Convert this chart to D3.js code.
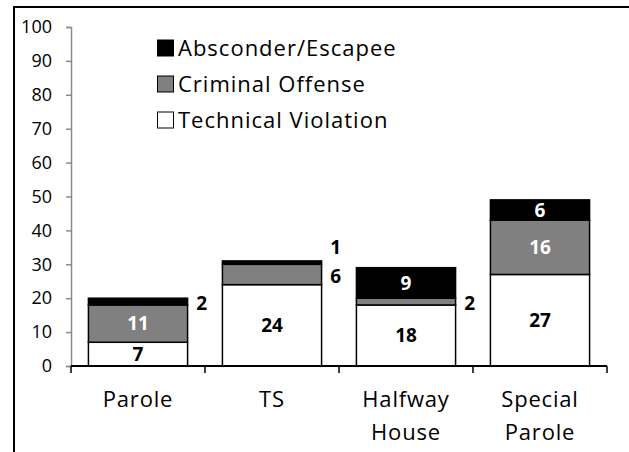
<!DOCTYPE html>
<html>
<head>
  <meta charset="utf-8" />
  <script src="https://cdn.jsdelivr.net/npm/d3@7"></script>
  <style>
    body { margin: 0; background: #fff; }
    svg { display: block; font-family: "Open Sans", sans-serif; }
  </style>
</head>
<body>
  <svg id="chart" width="629" height="452"></svg>
  <script>
    // data
    const categories = ["Parole", "TS", "Halfway House", "Special Parole"];
    const seriesNames = ["Technical Violation", "Criminal Offense", "Absconder/Escapee"];
    const technical = [7, 24, 18, 27];
    const criminal = [11, 6, 2, 16];
    const absconder = [2, 1, 9, 6];
    const yTicks = [0, 10, 20, 30, 40, 50, 60, 70, 80, 90, 100];

    const colors = { "Technical Violation": "#ffffff", "Criminal Offense": "#808080", "Absconder/Escapee": "#000000" };
    const labelColors = { "Technical Violation": "#000", "Criminal Offense": "#fff", "Absconder/Escapee": "#fff" };
    // which segment labels sit beside the bar instead of inside it
    const outside = new Set(["Parole|Absconder/Escapee", "TS|Criminal Offense", "TS|Absconder/Escapee", "Halfway House|Criminal Offense"]);

    const rows = categories.map((c, i) => ({
      cat: c,
      "Technical Violation": technical[i],
      "Criminal Offense": criminal[i],
      "Absconder/Escapee": absconder[i]
    }));

    const svg = d3.select("#chart");
    const margin = { left: 71 };
    const W = 629, H = 452;

    // frame (top and left edges visible)
    svg.append("line").attr("x1", 14).attr("x2", W).attr("y1", 7).attr("y2", 7)
      .attr("stroke", "#000").attr("stroke-width", 2);
    svg.append("line").attr("x1", 14).attr("x2", 14).attr("y1", 6).attr("y2", H)
      .attr("stroke", "#000").attr("stroke-width", 2);

    const x = d3.scaleBand().domain(categories).range([margin.left, 607]).paddingInner(0.26).paddingOuter(0.13);
    const y = d3.scaleLinear().domain([0, 100]).range([366, 27]);

    const stack = d3.stack().keys(seriesNames)(rows);

    // y axis (grey)
    const yAxis = svg.append("g").attr("transform", `translate(${margin.left},0)`)
      .call(d3.axisLeft(y).tickValues(yTicks).tickSize(5).tickPadding(14));
    yAxis.select(".domain").attr("stroke", "#8c8c8c").attr("stroke-width", 1.5);
    yAxis.selectAll(".tick line").attr("stroke", "#8c8c8c").attr("stroke-width", 1.5);
    yAxis.attr("font-size", null).attr("font-family", null);
    yAxis.selectAll("text").style("font-size", "18px").attr("fill", "#000");

    // bars
    const g = svg.append("g");
    stack.forEach(layer => {
      g.selectAll(null).data(layer).enter().append("rect")
        .attr("x", d => x(d.data.cat))
        .attr("width", x.bandwidth())
        .attr("y", d => y(d[1]))
        .attr("height", d => y(d[0]) - y(d[1]))
        .attr("fill", colors[layer.key])
        .attr("stroke", "#000")
        .attr("stroke-width", 1.5);
    });

    // x axis (black)
    const xAxisY = y(0);
    svg.append("line").attr("x1", margin.left).attr("x2", 607).attr("y1", xAxisY).attr("y2", xAxisY)
      .attr("stroke", "#000").attr("stroke-width", 2);
    const bandStep = x.step();
    const tickXs = categories.map(c => x(c) - x.paddingInner() * bandStep / 2).concat([607]);
    tickXs[0] = margin.left;
    svg.selectAll(null).data(tickXs).enter().append("line")
      .attr("x1", d => d).attr("x2", d => d)
      .attr("y1", xAxisY).attr("y2", xAxisY + 7)
      .attr("stroke", "#000").attr("stroke-width", 1.5);

    // category labels, split onto two lines
    categories.forEach(c => {
      const parts = c.split(" ");
      const t = svg.append("text")
        .attr("x", x(c) + x.bandwidth() / 2)
        .attr("y", 407)
        .attr("text-anchor", "middle")
        .style("font-size", "22px")
        .style("letter-spacing", "0.8px")
        .attr("fill", "#000");
      parts.forEach((p, i) => {
        t.append("tspan").attr("x", x(c) + x.bandwidth() / 2).attr("dy", i === 0 ? 0 : 33).text(p);
      });
    });

    // value labels
    let lastOutside = {};
    stack.forEach(layer => {
      layer.forEach(d => {
        const key = d.data.cat + "|" + layer.key;
        const v = d[1] - d[0];
        const mid = (y(d[0]) + y(d[1])) / 2;
        if (outside.has(key)) {
          let ly = mid + 2;
          const prev = lastOutside[d.data.cat];
          if (prev !== undefined && prev - ly < 28) ly = prev - 29;
          lastOutside[d.data.cat] = ly;
          svg.append("text")
            .attr("x", x(d.data.cat) + x.bandwidth() + 14)
            .attr("y", ly)
            .attr("dy", "0.35em")
            .attr("text-anchor", "middle")
            .style("font-size", "19px").attr("font-weight", "bold")
            .attr("fill", "#000").text(v);
        } else {
          svg.append("text")
            .attr("x", x(d.data.cat) + x.bandwidth() / 2)
            .attr("y", mid)
            .attr("dy", "0.35em")
            .attr("text-anchor", "middle")
            .style("font-size", "19px").attr("font-weight", "bold")
            .attr("fill", labelColors[layer.key]).text(v);
        }
      });
    });

    // legend
    const legendOrder = seriesNames.slice().reverse();
    const leg = svg.append("g").attr("transform", "translate(157,48)");
    legendOrder.forEach((name, i) => {
      const row = leg.append("g").attr("transform", `translate(0,${i * 36})`);
      row.append("rect").attr("x", 0.5).attr("y", -8).attr("width", 16).attr("height", 16)
        .attr("fill", colors[name]).attr("stroke", "#000").attr("stroke-width", 1);
      row.append("text").attr("x", 21).attr("y", 0).attr("dy", "0.35em")
        .style("font-size", "22px").style("letter-spacing", "1px").attr("fill", "#000").text(name);
    });
  </script>
</body>
</html>
